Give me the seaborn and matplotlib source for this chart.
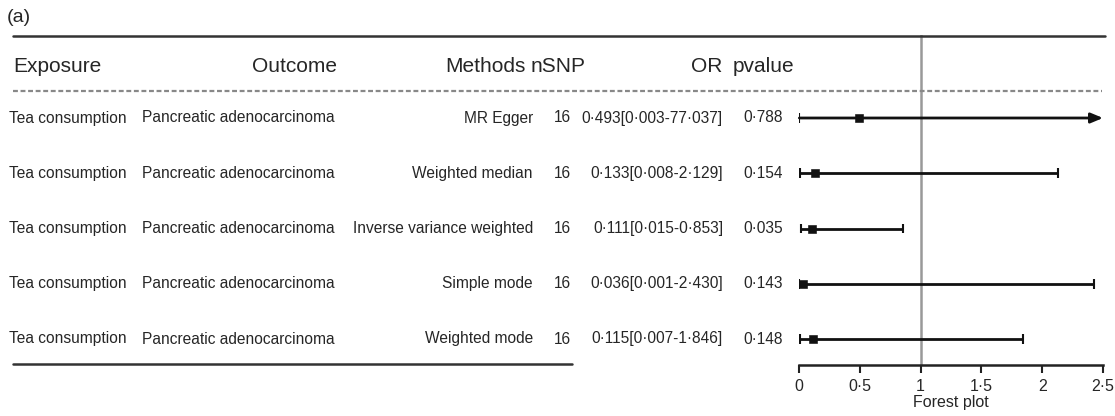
import matplotlib
matplotlib.use("Agg")
import matplotlib.pyplot as plt
import seaborn as sns
import pandas as pd
from matplotlib.lines import Line2D

sns.set_theme(style="white")
plt.rcParams['font.family'] = ['Liberation Sans', 'DejaVu Sans']

exposure = ["Tea consumption"] * 5
outcome = ["Pancreatic adenocarcinoma"] * 5
methods = ["MR Egger", "Weighted median", "Inverse variance weighted",
           "Simple mode", "Weighted mode"]
nsnp = [16, 16, 16, 16, 16]
or_val = [0.493, 0.133, 0.111, 0.036, 0.115]
or_low = [0.003, 0.008, 0.015, 0.001, 0.007]
or_high = [77.037, 2.129, 0.853, 2.430, 1.846]
pvalue = [0.788, 0.154, 0.035, 0.143, 0.148]
headers = ["Exposure", "Outcome", "Methods", "nSNP", "OR", "pvalue"]
xticks = [0, 0.5, 1, 1.5, 2, 2.5]
xmax = 2.5

def fmt(v):
    return f"{v:.3f}".replace(".", "\u00b7")

def fmt_tick(v):
    s = f"{v:g}"
    return s.replace(".", "\u00b7")

df = pd.DataFrame({"row": range(len(methods)), "OR": or_val,
                   "low": or_low, "high": or_high})

W, H = 1115, 416
fig = plt.figure(figsize=(W / 100, H / 100), dpi=100)

def fx(px):
    return px / W

def fy(py):
    return 1 - py / H

# forest axes
ax = fig.add_axes([fx(799), fy(365), fx(1103) - fx(799), fy(35) - fy(365)])
row_top, row_sp = 118, 55.25
ax.patch.set_alpha(0)

ax.axvline(1, color="#999999", lw=1.8, zorder=1)

ink = "#111111"
cap = 0.09
for i, r in df.iterrows():
    hi = min(r["high"], xmax)
    if r["high"] > xmax:
        ax.annotate("", xy=(xmax, r["row"]), xytext=(r["low"], r["row"]),
                    arrowprops=dict(arrowstyle="-|>,head_length=0.6,head_width=0.25",
                                    color=ink, lw=2, shrinkA=0, shrinkB=0))
        ax.vlines(r["low"], r["row"] - cap, r["row"] + cap, color=ink, lw=1.5)
    else:
        ax.hlines(r["row"], r["low"], hi, color=ink, lw=2, zorder=2)
        ax.vlines([r["low"], hi], r["row"] - cap, r["row"] + cap, color=ink, lw=1.5)

sns.scatterplot(data=df, x="OR", y="row", marker="s", s=28, color=ink,
                edgecolor=ink, ax=ax, zorder=3, legend=False)

ax.set_ylim((365 - row_top) / row_sp, (35 - row_top) / row_sp)
ax.set_xlim(0, xmax)
for s in ["top", "right", "left"]:
    ax.spines[s].set_visible(False)
ax.spines["bottom"].set_color("#222222")
ax.spines["bottom"].set_linewidth(1.8)
ax.spines["bottom"].set_bounds(0, xmax)
ax.set_yticks([])
ax.set_xticks(xticks)
ax.set_xticklabels([fmt_tick(t) for t in xticks], fontsize=11.5)
ax.tick_params(axis="x", direction="out", length=6, width=1.5, color="#222222",
               bottom=True, pad=4)
ax.set_xlabel("Forest plot", fontsize=11.5, labelpad=1)
ax.set_ylabel("")

# lines
fig.add_artist(Line2D([fx(13), fx(1105)], [fy(36), fy(36)], color="#333333", lw=1.8))
fig.add_artist(Line2D([fx(13), fx(1102)], [fy(90.5), fy(90.5)], color="#888888",
                      lw=1.6, linestyle=(0, (2.2, 1.2))))
fig.add_artist(Line2D([fx(13), fx(572)], [fy(364), fy(364)], color="#333333", lw=1.8))

fig.text(fx(7), fy(18), "(a)", fontsize=14, va="center", ha="left")

hy = fy(66)
hs = 15
fig.text(fx(13), hy, headers[0], fontsize=hs, va="center", ha="left")
fig.text(fx(252), hy, headers[1], fontsize=hs, va="center", ha="left")
fig.text(fx(445), hy, headers[2], fontsize=hs, va="center", ha="left")
fig.text(fx(531), hy, headers[3], fontsize=hs, va="center", ha="left")
fig.text(fx(722), hy, headers[4], fontsize=hs, va="center", ha="right")
fig.text(fx(733), hy, headers[5], fontsize=hs, va="center", ha="left")

ds = 11.2
for i in range(len(methods)):
    y = fy(row_top + i * row_sp)
    fig.text(fx(9), y, exposure[i], fontsize=ds, va="center", ha="left")
    fig.text(fx(142), y, outcome[i], fontsize=ds, va="center", ha="left")
    fig.text(fx(533), y, methods[i], fontsize=ds, va="center", ha="right")
    fig.text(fx(562), y, str(nsnp[i]), fontsize=ds, va="center", ha="center")
    fig.text(fx(723), y, f"{fmt(or_val[i])}[{fmt(or_low[i])}-{fmt(or_high[i])}]",
             fontsize=ds, va="center", ha="right")
    fig.text(fx(783), y, fmt(pvalue[i]), fontsize=ds, va="center", ha="right")

fig.savefig("out.png", dpi=100)
